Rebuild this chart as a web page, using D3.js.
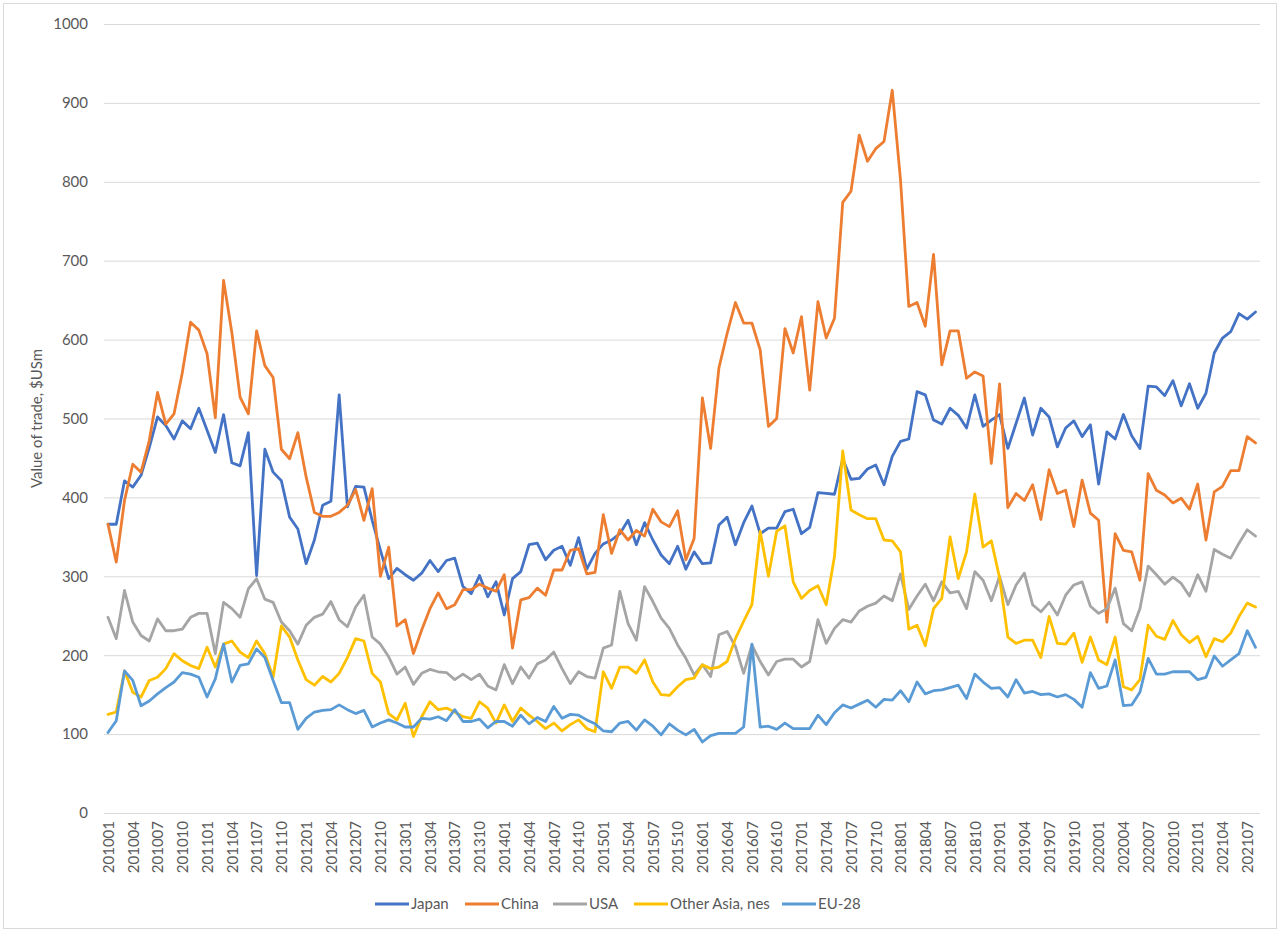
<!DOCTYPE html>
<html>
<head>
<meta charset="utf-8">
<script src="https://cdn.jsdelivr.net/npm/d3@7"></script>
<style>
  html, body { margin: 0; padding: 0; background: #fff; }
  svg text { font-family: Lato, "Liberation Sans", sans-serif; fill: #595959; }
</style>
</head>
<body>
<svg id="chart" width="1280" height="935"></svg>
<script>
// ---- data ----
const startYear = 2010, nMonths = 140;
const months = [];
for (let k = 0; k < nMonths; k++) {
  const y = startYear + Math.floor(k / 12), m = (k % 12) + 1;
  months.push(String(y) + (m < 10 ? "0" : "") + m);
}

const japan = [366,366,421,413,428,463,502,491,474,497,487,513,485,457,505,444,440,482,301,461,432,421,375,360,
  316,346,390,395,530,388,414,413,371,333,297,310,302,295,304,320,306,320,323,287,278,301,274,
  293,251,297,306,340,342,321,333,338,314,349,309,329,341,346,354,371,340,368,346,327,316,338,
  309,331,316,317,365,375,340,368,389,354,361,361,382,385,354,362,406,405,404,449,423,424,436,
  441,416,452,471,474,534,530,498,493,513,504,488,530,490,498,
  505,462,494,526,479,513,502,464,488,497,477,492,417,483,474,505,478,462,541,540,529,548,516,544,513,532,583,602,610,633,626,635];

const china = [366,318,396,442,432,472,533,493,506,558,622,612,582,501,675,609,527,506,611,567,552,461,449,482,
  426,381,376,376,381,390,410,371,411,300,337,237,245,202,232,259,279,259,264,283,283,290,285,
  281,302,209,270,273,285,276,308,308,333,335,303,305,378,329,359,346,358,351,385,369,363,383,
  321,348,526,462,564,608,647,621,621,587,490,500,614,583,629,536,648,602,627,774,788,859,826,
  842,851,916,802,642,647,617,708,568,611,611,551,559,554,443,
  544,387,405,396,416,372,435,405,409,363,422,380,371,242,354,333,331,295,430,409,403,393,399,385,417,346,407,414,434,434,477,469];

const usa = [248,221,282,242,225,218,246,231,231,233,248,253,253,202,267,259,248,284,297,271,267,242,231,214,
  238,248,252,268,245,236,261,276,223,214,198,176,185,163,177,182,179,178,169,176,169,176,161,
  156,188,164,185,171,189,194,204,183,164,179,173,171,209,213,281,240,219,287,268,247,234,213,
  196,175,188,173,226,230,211,177,213,192,175,192,195,195,185,192,245,215,234,245,242,256,262,
  266,275,269,303,258,275,290,269,293,279,281,259,306,295,269,
  300,264,289,304,264,255,267,251,276,289,293,262,253,259,285,240,231,259,313,302,290,299,291,275,302,281,334,328,323,342,359,351];

const otherAsia = [125,128,180,153,147,168,172,183,202,193,187,183,210,185,214,218,204,197,218,202,172,237,223,194,
  169,162,173,166,177,197,221,218,177,166,126,118,139,97,122,141,131,133,128,122,120,141,133,
  114,137,116,133,124,116,107,114,104,112,118,107,103,179,158,185,185,177,194,166,150,149,160,
  169,171,188,183,185,192,221,243,264,357,300,357,364,293,272,282,288,264,325,459,384,378,373,
  373,346,345,331,233,238,212,259,272,350,297,331,404,337,345,
  298,223,215,219,219,197,249,215,214,228,191,223,194,188,223,160,156,169,238,224,220,244,226,216,224,198,221,217,228,249,266,261];

const eu28 = [102,117,180,168,136,142,151,159,166,178,176,172,147,170,214,166,187,189,208,197,168,140,140,106,
  120,128,130,131,137,131,126,130,109,114,118,114,109,109,120,119,122,117,131,116,116,119,108,
  116,116,110,124,113,121,116,135,120,125,124,118,113,104,103,114,116,105,118,110,99,113,105,
  99,106,90,98,101,101,101,109,214,109,110,106,114,107,107,107,124,112,127,137,133,138,143,
  134,144,143,155,141,166,151,155,156,159,162,145,176,166,158,
  159,147,169,152,154,150,151,147,150,144,134,178,158,161,194,136,137,153,196,176,176,179,179,179,169,172,199,186,194,202,231,210];

const seriesNames = ["Japan", "China", "USA", "Other Asia, nes", "EU-28"];
const seriesValues = [japan, china, usa, otherAsia, eu28];
const seriesColors = ["#4472C4", "#ED7D31", "#A5A5A5", "#FFC000", "#5B9BD5"];
const yTicks = [0,100,200,300,400,500,600,700,800,900,1000];
const yTitle = "Value of trade, $USm";

// ---- chart ----
const svg = d3.select("#chart");
const plot = { left: 104, right: 1260, top: 24, bottom: 813 };

svg.append("rect").attr("x", 3.5).attr("y", 3.5).attr("width", 1273).attr("height", 925)
  .attr("fill", "#fff").attr("stroke", "#d9d9d9").attr("stroke-width", 1);

const x = d3.scalePoint().domain(months).range([108, 1255.5]);
const y = d3.scaleLinear().domain([0, 1000]).range([plot.bottom, plot.top]);

// gridlines + y labels
const yAxis = d3.axisLeft(y).tickValues(yTicks).tickSize(-(plot.right - plot.left)).tickPadding(16).tickFormat(d3.format("d"));
const gy = svg.append("g").attr("transform", `translate(${plot.left},0)`).call(yAxis);
gy.select(".domain").remove();
gy.selectAll(".tick line").attr("stroke", "#d9d9d9").attr("stroke-width", 1);
gy.selectAll(".tick text").attr("font-size", 15).attr("fill", "#595959")
  .style("font-family", "Lato, 'Liberation Sans', sans-serif");

// x labels
const xAxis = d3.axisBottom(x).tickValues(months.filter((d, i) => i % 3 === 0)).tickSize(0).tickPadding(0);
const gx = svg.append("g").attr("transform", `translate(0,${plot.bottom})`).call(xAxis);
gx.select(".domain").remove();
gx.selectAll(".tick text")
  .attr("font-size", 15).attr("fill", "#595959")
  .style("font-family", "Lato, 'Liberation Sans', sans-serif")
  .attr("text-anchor", "end")
  .attr("dy", "0.35em")
  .attr("transform", "translate(0,8) rotate(-90)")
  .attr("x", 0).attr("y", 0);

// y title
svg.append("text")
  .attr("transform", `translate(42,${(plot.top + plot.bottom) / 2}) rotate(-90)`)
  .attr("text-anchor", "middle").attr("font-size", 15).text(yTitle);

// lines
const line = d3.line().x((d, i) => x(months[i])).y(d => y(d));
seriesValues.forEach((vals, s) => {
  svg.append("path").datum(vals)
    .attr("fill", "none").attr("stroke", seriesColors[s])
    .attr("stroke-width", 2.8).attr("stroke-linejoin", "round").attr("stroke-linecap", "round")
    .attr("d", line);
});

// legend
const legendX = [375, 465, 553, 634, 782];
const lg = svg.append("g").attr("transform", "translate(0,904)");
seriesNames.forEach((name, s) => {
  const g = lg.append("g").attr("transform", `translate(${legendX[s]},0)`);
  g.append("line").attr("x1", 0).attr("x2", 34).attr("y1", 0).attr("y2", 0)
    .attr("stroke", seriesColors[s]).attr("stroke-width", 3);
  g.append("text").attr("x", 36).attr("y", 0).attr("dy", "0.35em").attr("font-size", 15).text(name);
});
</script>
</body>
</html>
